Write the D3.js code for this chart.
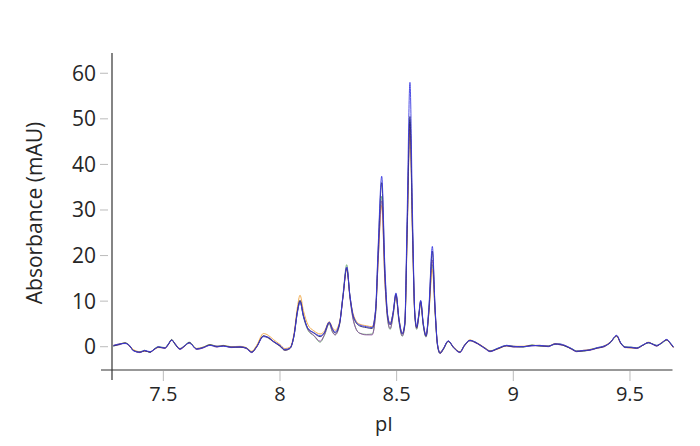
<!DOCTYPE html>
<html>
<head>
<meta charset="utf-8">
<script src="https://cdn.jsdelivr.net/npm/d3@7"></script>
<style>
  html, body { margin: 0; padding: 0; background: #fff; }
  svg { display: block; font-family: "Open Sans", Lato, sans-serif; }
</style>
</head>
<body>
<div id="chart"></div>
<script>
// pI sampling positions (denser around the peaks)
const pI = [
  7.286, 7.31, 7.336, 7.355, 7.371, 7.40, 7.42, 7.443, 7.46, 7.479, 7.507, 7.52, 7.536, 7.55, 7.571, 7.59, 7.611,
  7.643, 7.67, 7.70, 7.73, 7.757, 7.79, 7.829, 7.855, 7.879, 7.90, 7.929, 7.95, 7.971, 8.0, 8.021, 8.043,
  8.06, 8.075, 8.086, 8.10, 8.12, 8.145, 8.172, 8.19, 8.211, 8.225, 8.236, 8.255, 8.27, 8.286, 8.30, 8.315,
  8.34, 8.37, 8.395, 8.41, 8.42, 8.436, 8.45, 8.462, 8.472, 8.485, 8.497, 8.51, 8.524, 8.535, 8.545, 8.557,
  8.568, 8.578, 8.586, 8.595, 8.603, 8.614, 8.626, 8.638, 8.653, 8.665, 8.675, 8.686,
  8.70, 8.721, 8.745, 8.771, 8.79, 8.814, 8.835, 8.857, 8.88, 8.9, 8.935, 8.972, 9.0, 9.043, 9.08, 9.114,
  9.15, 9.179, 9.2, 9.221, 9.25, 9.271, 9.3, 9.329, 9.36, 9.386, 9.415, 9.443, 9.46, 9.479, 9.505, 9.529,
  9.555, 9.579, 9.6, 9.614, 9.635, 9.657, 9.675, 9.686
];

// absorbance (mAU) per run
const runGreen = [
  0.1, 0.5, 0.9, 0.3, -0.7, -1.1, -0.8, -1.3, -0.5, 0.0, -0.2, 0.5, 1.6, 0.5, -0.4, 0.2, 1.0,
  -0.4, -0.1, 0.5, 0.1, 0.3, 0.0, 0.0, -0.2, -1.1, 0.1, 2.3, 1.9, 1.1, 0.1, -0.8, -0.4,
  2.3, 7.6, 9.9, 6.6, 3.6, 2.4, 1.0, 2.4, 5.0, 3.2, 2.6, 4.8, 11.4, 18.0, 10.8, 5.8,
  3.0, 2.7, 2.8, 7.2, 18.5, 33.0, 14.5, 5.6, 3.8, 6.8, 11.2, 5.4, 2.3, 4.6, 25.0, 49.5,
  25.0, 6.6, 3.8, 6.6, 9.6, 4.6, 2.1, 7.4, 18.0, 7.2, 0.2, -1.5,
  -0.6, 1.1, -0.3, -1.1, 0.3, 1.3, 1.1, 0.3, -0.3, -0.9, -0.3, 0.3, 0.1, -0.1, 0.4, 0.1,
  0.2, 0.5, 0.6, 0.1, -0.4, -0.9, -1.0, -0.6, -0.2, 0.1, 0.8, 2.3, 0.9, 0.0, -0.1, -0.2,
  0.4, 0.8, 0.6, 0.3, 0.7, 1.4, 0.7, 0.0
];
const runOrange = [
  0.3, 0.6, 0.8, 0.2, -0.6, -1.1, -1.0, -1.1, -0.6, -0.2, -0.2, 0.4, 1.4, 0.7, -0.4, 0.1, 0.8,
  -0.4, -0.1, 0.4, 0.1, 0.2, 0.0, 0.1, -0.2, -1.0, 0.3, 2.9, 2.5, 1.6, 0.5, -0.4, -0.1,
  2.9, 8.8, 11.3, 8.0, 4.8, 3.5, 2.8, 3.4, 5.5, 4.2, 3.6, 5.4, 11.0, 17.0, 11.0, 7.0,
  5.0, 4.6, 4.4, 8.0, 18.0, 31.0, 14.0, 6.6, 5.2, 7.4, 11.0, 6.2, 3.0, 5.0, 24.0, 48.0,
  24.0, 7.0, 4.4, 6.8, 9.4, 5.0, 2.6, 7.2, 17.0, 7.4, 0.6, -1.2,
  -0.4, 1.2, -0.1, -1.1, 0.3, 1.5, 1.0, 0.5, -0.3, -0.9, -0.5, 0.2, 0.1, 0.1, 0.3, 0.3,
  0.1, 0.7, 0.5, 0.3, -0.5, -1.0, -0.8, -0.6, -0.3, 0.1, 1.0, 2.3, 0.7, -0.1, -0.3, -0.3,
  0.3, 1.0, 0.5, 0.2, 0.9, 1.5, 0.5, -0.2
];
const runPurple = [
  0.2, 0.4, 0.8, 0.1, -0.8, -1.3, -0.9, -1.2, -0.7, -0.1, -0.4, 0.3, 1.5, 0.6, -0.6, 0.0, 0.9,
  -0.6, -0.3, 0.3, -0.1, 0.2, -0.2, -0.1, -0.4, -1.3, -0.1, 2.3, 1.9, 1.1, 0.1, -0.8, -0.4,
  2.4, 7.8, 10.0, 6.8, 3.8, 2.5, 1.2, 2.6, 5.1, 3.3, 2.6, 4.8, 10.8, 17.4, 10.6, 5.6,
  3.0, 2.6, 2.6, 7.4, 18.0, 32.0, 14.0, 5.8, 4.0, 7.0, 11.4, 5.6, 2.4, 4.8, 25.0, 49.0,
  25.0, 6.8, 4.0, 6.8, 9.8, 4.8, 2.2, 7.6, 19.0, 7.6, 0.3, -1.5,
  -0.6, 1.2, -0.3, -1.3, 0.1, 1.3, 0.9, 0.3, -0.5, -1.1, -0.4, 0.2, -0.1, 0.0, 0.2, 0.2,
  0.0, 0.6, 0.4, 0.2, -0.6, -1.1, -0.9, -0.8, -0.3, -0.1, 0.9, 2.4, 0.8, -0.2, -0.2, -0.4,
  0.3, 0.9, 0.4, 0.1, 0.8, 1.5, 0.6, -0.2
];
const runNavy = [
  0.2, 0.5, 0.8, 0.2, -0.8, -1.2, -0.9, -1.2, -0.6, -0.1, -0.3, 0.4, 1.5, 0.6, -0.5, 0.1, 0.9,
  -0.5, -0.2, 0.4, 0.0, 0.2, -0.1, -0.1, -0.3, -1.2, 0.0, 2.4, 2.0, 1.2, 0.2, -0.7, -0.3,
  2.5, 8.0, 10.2, 7.0, 4.0, 3.0, 2.2, 3.0, 5.3, 3.8, 3.0, 5.0, 11.0, 17.2, 11.0, 6.5,
  4.6, 4.2, 4.0, 8.0, 20.0, 36.0, 16.0, 6.5, 4.8, 7.5, 11.6, 6.0, 2.8, 5.0, 26.0, 50.5,
  26.0, 7.0, 4.2, 7.0, 10.0, 5.0, 2.4, 8.0, 21.0, 8.0, 0.5, -1.4,
  -0.5, 1.2, -0.2, -1.2, 0.2, 1.4, 1.0, 0.4, -0.4, -1.0, -0.4, 0.2, 0.0, 0.0, 0.3, 0.2,
  0.1, 0.6, 0.5, 0.2, -0.5, -1.0, -0.9, -0.7, -0.3, 0.0, 0.9, 2.4, 0.8, -0.1, -0.2, -0.3,
  0.3, 0.9, 0.5, 0.2, 0.8, 1.5, 0.6, -0.1
];
const runBlue = [
  0.3, 0.6, 0.7, 0.3, -0.9, -1.2, -0.8, -1.1, -0.6, 0.0, -0.3, 0.5, 1.4, 0.7, -0.5, 0.2, 0.8,
  -0.5, -0.2, 0.3, 0.1, 0.1, -0.1, 0.0, -0.3, -1.2, 0.0, 2.2, 2.1, 1.2, 0.3, -0.6, -0.3,
  2.4, 7.6, 9.8, 6.8, 4.0, 3.1, 2.4, 3.1, 5.4, 3.9, 3.2, 5.1, 11.2, 17.5, 11.2, 6.6,
  4.8, 4.4, 4.2, 8.4, 21.0, 37.4, 17.0, 6.8, 5.0, 7.6, 11.8, 6.1, 2.9, 5.4, 29.0, 58.0,
  29.0, 7.4, 4.4, 7.2, 10.2, 5.2, 2.5, 8.6, 22.0, 8.4, 0.6, -1.3,
  -0.4, 1.3, -0.2, -1.2, 0.3, 1.4, 1.1, 0.4, -0.4, -1.0, -0.3, 0.3, 0.1, 0.0, 0.2, 0.3,
  0.1, 0.6, 0.6, 0.3, -0.4, -1.0, -0.8, -0.7, -0.2, 0.1, 0.9, 2.5, 0.9, -0.1, -0.1, -0.3,
  0.4, 0.9, 0.5, 0.3, 0.8, 1.6, 0.7, 0.0
];

const runs = [
  { values: runGreen,  color: "#6aaa6e" },
  { values: runOrange, color: "#f0a540" },
  { values: runPurple, color: "#8e50a2" },
  { values: runNavy,   color: "#22225e" },
  { values: runBlue,   color: "#3a3ae0" }
];

const xTicks = [7.5, 8, 8.5, 9, 9.5];
const yTicks = [0, 10, 20, 30, 40, 50, 60];

const width = 700, height = 446;
const svg = d3.select("#chart").append("svg").attr("width", width).attr("height", height);

const x = d3.scaleLinear().domain([7.28, 9.69]).range([112, 674.3]);
const y = d3.scaleLinear().domain([-5, 64.6]).range([369.5, 52.3]);

// axis lines (they cross at the lower-left corner)
svg.append("line").attr("x1", 112).attr("x2", 112).attr("y1", 53).attr("y2", 380)
  .attr("stroke", "#333").attr("stroke-width", 1.2);
svg.append("line").attr("x1", 101).attr("x2", 672.5).attr("y1", 370).attr("y2", 370)
  .attr("stroke", "#333").attr("stroke-width", 1.2);

// y ticks
const yAxis = svg.append("g");
yAxis.selectAll("line").data(yTicks).enter().append("line")
  .attr("x1", 100).attr("x2", 108)
  .attr("y1", d => y(d)).attr("y2", d => y(d))
  .attr("stroke", "#bbb").attr("stroke-width", 1);
yAxis.selectAll("text").data(yTicks).enter().append("text")
  .attr("x", 96).attr("y", d => y(d) + 7.5)
  .attr("text-anchor", "end")
  .style("font-size", "21px").style("fill", "#262626")
  .text(d => d);

// x ticks
const xAxis = svg.append("g");
xAxis.selectAll("line").data(xTicks).enter().append("line")
  .attr("x1", d => x(d)).attr("x2", d => x(d))
  .attr("y1", 371).attr("y2", 381)
  .attr("stroke", "#bbb").attr("stroke-width", 1);
xAxis.selectAll("text").data(xTicks).enter().append("text")
  .attr("x", d => x(d)).attr("y", 401)
  .attr("text-anchor", "middle")
  .style("font-size", "20px").style("fill", "#262626")
  .text(d => d);

// axis titles
svg.append("text")
  .attr("transform", "translate(42,213) rotate(-90)")
  .attr("text-anchor", "middle")
  .style("font-size", "21px").style("fill", "#262626")
  .text("Absorbance (mAU)");
svg.append("text")
  .attr("x", 384).attr("y", 431)
  .attr("text-anchor", "middle")
  .style("font-size", "20px").style("fill", "#262626")
  .text("pI");

// traces
const line = d3.line()
  .x((d, i) => x(pI[i]))
  .y(d => y(d))
  .curve(d3.curveMonotoneX);

svg.append("g").selectAll("path").data(runs).enter().append("path")
  .attr("d", d => line(d.values))
  .attr("fill", "none")
  .attr("stroke", d => d.color)
  .attr("stroke-width", 1)
  .attr("stroke-opacity", 0.9);
</script>
</body>
</html>
